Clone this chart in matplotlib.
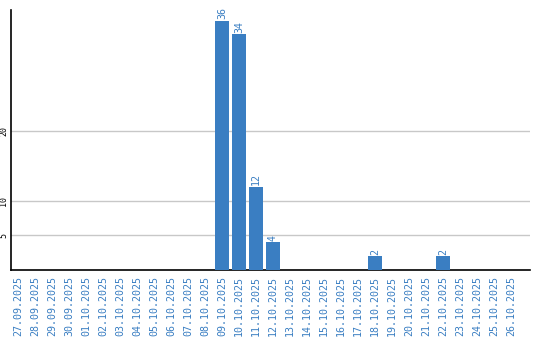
import matplotlib
matplotlib.use("Agg")
import matplotlib.pyplot as plt

dates = ["27.09.2025", "28.09.2025", "29.09.2025", "30.09.2025", "01.10.2025",
         "02.10.2025", "03.10.2025", "04.10.2025", "05.10.2025", "06.10.2025",
         "07.10.2025", "08.10.2025", "09.10.2025", "10.10.2025", "11.10.2025",
         "12.10.2025", "13.10.2025", "14.10.2025", "15.10.2025", "16.10.2025",
         "17.10.2025", "18.10.2025", "19.10.2025", "20.10.2025", "21.10.2025",
         "22.10.2025", "23.10.2025", "24.10.2025", "25.10.2025", "26.10.2025"]
values = [0, 0, 0, 0, 0, 0, 0, 0, 0, 0, 0, 0, 36, 34, 12, 4, 0, 0, 0, 0,
          0, 2, 0, 0, 0, 2, 0, 0, 0, 0]
yticks = [5, 10, 20]

blue = "#3a7ec2"
W, H = 540, 340
fig = plt.figure(figsize=(W / 100, H / 100), dpi=100)
ax = fig.add_axes([11 / W, (H - 270) / H, (530 - 11) / W, (270 - 10) / H])

x = list(range(len(dates)))
ax.bar(x, values, width=14 / 17, color=blue, zorder=3)
for xi, v in zip(x, values):
    if v > 0:
        ax.annotate(str(v), (xi, v), xytext=(0, 1), textcoords="offset points",
                    rotation=90, ha="center", va="bottom", color=blue,
                    fontsize=7.2, family="DejaVu Sans Mono")

ax.set_xlim(-7 / 17, 29 + 19 / 17)
ax.set_ylim(0, 260 / 6.93)
ax.set_xticks(x)
ax.set_xticklabels(dates, rotation=90, color=blue, fontsize=7.2,
                   family="DejaVu Sans Mono", va="top", ha="center")
ax.set_yticks(yticks)
ax.set_yticklabels([str(t) for t in yticks], rotation=90, fontsize=6,
                   family="DejaVu Sans Mono", va="center")
ax.tick_params(axis="both", length=0)
ax.tick_params(axis="x", pad=4)
ax.tick_params(axis="y", pad=2)
ax.grid(axis="y", color="#c8c8c8", linewidth=1, zorder=0)
for s in ["top", "right"]:
    ax.spines[s].set_visible(False)
for s in ["left", "bottom"]:
    ax.spines[s].set_color("black")
    ax.spines[s].set_linewidth(1.2)

fig.savefig("out.png", dpi=100)
